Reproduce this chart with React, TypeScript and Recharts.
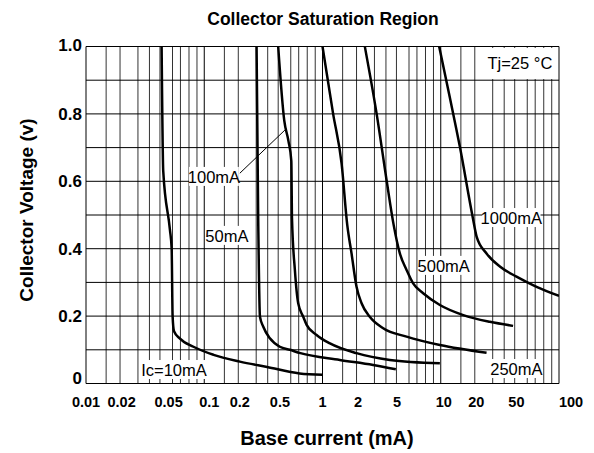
import React from 'react';
import { LineChart, Line, XAxis, YAxis, ReferenceDot, ReferenceLine } from 'recharts';

const FONT = '"Liberation Sans", Arial, Helvetica, sans-serif';

// axis ticks
const xTicks = [0.01, 0.02, 0.05, 0.1, 0.2, 0.5, 1, 2, 5, 10, 20, 50, 100];
const yTicks = [0, 0.2, 0.4, 0.6, 0.8, 1.0];
const yGridLines = [0.1, 0.2, 0.3, 0.4, 0.5, 0.6, 0.7, 0.8, 0.9];

// the printed grid is not a clean log grid, these are the minor line steps inside each decade
const decadeStarts = [0.01, 0.1, 1, 10, 100];
const gridSteps = [1.48, 1.94, 2.75, 3.44, 4.22, 5.39, 6.29, 7.43, 8.68];

// Ic = 10mA
const ic10Base = [0.0436, 0.045, 0.0513, 0.053, 0.054, 0.0555, 0.062, 0.081, 0.12, 0.2, 0.34, 0.64, 1.0];
const ic10Vce = [1.0, 0.63, 0.455, 0.4, 0.2, 0.155, 0.134, 0.109, 0.085, 0.065, 0.049, 0.03, 0.026];
// Ic = 50mA
const ic50Base = [0.277, 0.286, 0.296, 0.315, 0.359, 0.436, 0.53, 0.65, 1.4, 2.68, 4.17];
const ic50Vce = [1.0, 0.485, 0.198, 0.169, 0.134, 0.109, 0.1, 0.09, 0.07, 0.055, 0.042];
// Ic = 100mA
const ic100Base = [0.422, 0.475, 0.515, 0.545, 0.552, 0.584, 0.623, 0.687, 0.734, 0.891, 1.156, 1.94, 3.71, 9.83];
const ic100Vce = [1.0, 0.78, 0.72, 0.66, 0.49, 0.337, 0.238, 0.198, 0.174, 0.144, 0.119, 0.09, 0.07, 0.06];
// Ic = 250mA
const ic250Base = [1.0, 1.23, 1.45, 1.62, 1.76, 1.94, 2.14, 2.51, 3.26, 5.14, 9.83, 24.4];
const ic250Vce = [1.0, 0.8, 0.653, 0.47, 0.386, 0.287, 0.238, 0.198, 0.164, 0.139, 0.114, 0.091];
// Ic = 500mA
const ic500Base = [2.28, 2.87, 3.48, 4.0, 4.51, 5.14, 5.84, 7.1, 9.83, 15.5, 26.0, 40.9];
const ic500Vce = [1.0, 0.8, 0.604, 0.47, 0.386, 0.337, 0.297, 0.268, 0.233, 0.203, 0.183, 0.171];
// Ic = 1000mA
const ic1000Base = [9.7, 11.9, 14.5, 18.6, 20.1, 24.4, 31.6, 43.7, 64.6, 100];
const ic1000Vce = [1.0, 0.851, 0.703, 0.495, 0.436, 0.386, 0.347, 0.317, 0.287, 0.26];

// curve labels (placed in data units)
const labelText = ['Ic=10mA', '50mA', '100mA', '250mA', '500mA', '1000mA', 'Tj=25 °C'];
const labelBase = [0.0555, 0.1555, 0.1208, 43.6, 10.6, 39.5, 46.7];
const labelVce = [0.04, 0.438, 0.613, 0.043, 0.349, 0.491, 0.951];

const toPoints = (base: number[], vce: number[]) => base.map((x, i) => ({ x, y: vce[i] }));

const curves = [
  toPoints(ic10Base, ic10Vce),
  toPoints(ic50Base, ic50Vce),
  toPoints(ic100Base, ic100Vce),
  toPoints(ic250Base, ic250Vce),
  toPoints(ic500Base, ic500Vce),
  toPoints(ic1000Base, ic1000Vce),
];

const minorGrid = decadeStarts.slice(0, -1).flatMap((d) => gridSteps.map((s) => d * s));

// small sideways shifts the original print has on some tick labels
const tickNudge: Record<string, number> = { '0.1': 5, '0.5': -7, '5': -8, '10': 3, '50': -7, '100': 12 };

const XTick = (props: any) => {
  const { x, y, payload } = props;
  const label = String(payload.value);
  return (
    <text x={x + (tickNudge[label] || 0)} y={y + 15.5} textAnchor="middle" fontFamily={FONT}
      fontWeight="bold" fontSize={14.5} fill="#000">
      {label}
    </text>
  );
};

const YTick = (props: any) => {
  const { x, y, payload } = props;
  const v = payload.value as number;
  const dy = v === 0 ? 0 : v === 1 ? 4 : 6;
  return (
    <text x={x} y={y + dy} textAnchor="end" fontFamily={FONT} fontWeight="bold" fontSize={17} fill="#000">
      {v === 0 ? '0' : v.toFixed(1)}
    </text>
  );
};

const Tag = ({ cx, cy, text }: { cx: number; cy: number; text: string }) => {
  const fs = 16.5;
  const w = text.length * fs * 0.53 + 6;
  const tall = text.startsWith('Tj');
  return (
    <g>
      <rect x={cx - w / 2} y={tall ? cy - 15 : cy - 10} width={w} height={tall ? 31 : 19} fill="#fff" />
      <text x={cx} y={cy + 6} textAnchor="middle" fontFamily={FONT} fontSize={fs} fill="#000">
        {text}
      </text>
    </g>
  );
};

export default function App() {
  return (
    <div style={{ position: 'absolute', left: 0, top: 0, width: 594, height: 453, background: '#fff' }}>
      <LineChart width={594} height={453} margin={{ top: 46.5, right: 35, bottom: 29.5, left: 26 }}>
        <XAxis
          type="number"
          dataKey="x"
          scale="log"
          domain={[0.01, 100]}
          ticks={xTicks}
          interval={0}
          allowDataOverflow
          axisLine={false}
          tickLine={false}
          height={40}
          tick={<XTick />}
        />
        <YAxis
          type="number"
          dataKey="y"
          domain={[0, 1]}
          ticks={yTicks}
          interval={0}
          allowDataOverflow
          axisLine={false}
          tickLine={false}
          tickSize={2}
          tickMargin={2}
          width={60}
          tick={<YTick />}
        />
        {minorGrid.map((v) => (
          <ReferenceLine key={`m${v}`} x={v} stroke="#333" strokeWidth={1} ifOverflow="visible" />
        ))}
        {yGridLines.map((v) => (
          <ReferenceLine key={`h${v}`} y={v} stroke="#000" strokeWidth={1} ifOverflow="visible" />
        ))}
        {decadeStarts.map((d) => (
          <ReferenceLine key={`d${d}`} x={d} stroke="#000" strokeWidth={1} ifOverflow="visible" />
        ))}
        <ReferenceLine y={0} stroke="#000" strokeWidth={1.2} ifOverflow="visible" />
        <ReferenceLine y={1} stroke="#000" strokeWidth={1.2} ifOverflow="visible" />
        {labelText.map((t, i) => (
          <ReferenceDot
            key={t}
            x={labelBase[i]}
            y={labelVce[i]}
            r={0}
            ifOverflow="visible"
            shape={(p: any) => <Tag cx={p.cx} cy={p.cy} text={t} />}
          />
        ))}
        <ReferenceLine
          segment={[{ x: 0.2, y: 0.624 }, { x: 0.481, y: 0.752 }]}
          stroke="#000"
          strokeWidth={1}
          ifOverflow="visible"
        />
        {curves.map((pts, i) => (
          <Line
            key={i}
            data={pts}
            dataKey="y"
            type="monotone"
            stroke="#000"
            strokeWidth={2.5}
            dot={false}
            activeDot={false}
            isAnimationActive={false}
          />
        ))}
      </LineChart>
      <svg width={594} height={453} style={{ position: 'absolute', left: 0, top: 0, pointerEvents: 'none' }}>
        <text x={323} y={25} textAnchor="middle" fontFamily={FONT} fontWeight="bold" fontSize={17.5} fill="#000">
          Collector Saturation Region
        </text>
        <text x={327} y={445} textAnchor="middle" fontFamily={FONT} fontWeight="bold" fontSize={20} fill="#000">
          Base current (mA)
        </text>
        <text x={33} y={210} transform="rotate(-90 33 210)" textAnchor="middle" fontFamily={FONT}
          fontWeight="bold" fontSize={19} fill="#000">
          Collector Voltage (v)
        </text>
      </svg>
    </div>
  );
}
